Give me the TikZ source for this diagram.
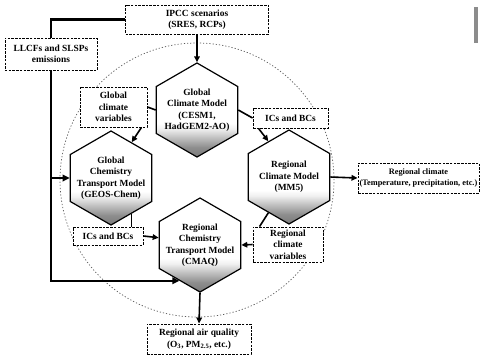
\documentclass[tikz,border=0pt]{standalone}
\usepackage{fontspec}
\setmainfont{Liberation Serif}
\usetikzlibrary{shapes.geometric,arrows.meta}
% grey band at the foot of each model hexagon
\pgfdeclareverticalshading{hexshade}{100bp}{color(0bp)=(black!52); color(25bp)=(black!52); color(30bp)=(black!45); color(36bp)=(black!22); color(40bp)=(black!6); color(43bp)=(white); color(100bp)=(white)}

\begin{document}
\begin{tikzpicture}[x=1bp,y=-1bp,
  txt/.style={font=\bfseries\fontsize{9.4bp}{11.5bp}\selectfont, align=center},
  dbox/.style={txt, draw, fill=white, dash pattern=on 2.5bp off 1.2bp, line width=0.9bp, inner sep=1bp},
  hexnode/.style={regular polygon, regular polygon sides=6, shape border rotate=30,
    minimum size=94bp, inner sep=0pt, draw, line width=1.2bp, shading=hexshade},
  conn/.style={line width=1.6bp},
  arr/.style={conn, -{Triangle[length=6bp,width=5.5bp]}},
  trunk/.style={line width=2.4bp},
  trunkarr/.style={trunk, -{Triangle[length=7bp,width=6.5bp]}},
  ring/.style={draw=black!65, line width=0.7bp, dash pattern=on 1.2bp off 2bp}
]
\useasboundingbox (0,0) rectangle (480,356);
\fill[white] (0,0) rectangle (480,356);

% dotted ring around the four models
\draw[ring] (197,180) circle[radius=137bp];

% models
\node[hexnode, label={[name=gcm-txt,txt]center:Global\\Climate Model\\(CESM1,\\HadGEM2-AO)}] (gcm) at (197,110) {};
\node[hexnode, label={[name=gctm-txt,txt]center:Global\\Chemistry\\Transport Model\\(GEOS-Chem)}] (gctm) at (111,178) {};
\node[hexnode, label={[name=rcm-txt,txt]center:Regional\\Climate Model\\(MM5)}] (rcm) at (289,177) {};
\node[hexnode, label={[name=cmaq-txt,txt]center:Regional\\Chemistry\\Transport Model\\(CMAQ)}] (cmaq) at (200,245) {};

% inputs, exchanged fields and outputs
\node[dbox, minimum width=143bp, minimum height=29bp] (ipcc) at (197,19.5) {IPCC scenarios\\(SRES, RCPs)};
\node[dbox, minimum width=92bp, minimum height=32bp] (llcf) at (51,54) {LLCFs and SLSPs\\emissions};
\node[dbox, minimum width=67bp, minimum height=40bp] (gcvar) at (113.5,107) {Global\\climate\\variables};
\node[dbox, minimum width=75bp, minimum height=20bp] (icsU) at (290.5,118) {ICs and BCs};
\node[dbox, minimum width=70bp, minimum height=18bp] (icsL) at (108,236) {ICs and BCs};
\node[dbox, minimum width=70bp, minimum height=35bp] (rcvar) at (288,244.5) {Regional\\climate\\variables};
\node[dbox, minimum width=121bp, minimum height=30bp, font=\bfseries\fontsize{8.3bp}{10.3bp}\selectfont] (regclim) at (418.5,178) {Regional climate\\(Temperature, precipitation, etc.)};
\node[dbox, minimum width=104bp, minimum height=30bp] (airq) at (199,339) {Regional air quality\\(O\textsubscript{3}, PM\textsubscript{2.5}, etc.)};

% scenario and emission feeds
\draw[arr] (ipcc.south) -- (gcm.north);
\draw[trunk] (ipcc.west) -| (llcf.north);
\coordinate (tap) at (llcf.south |- gctm.west);
\draw[trunk] (llcf.south) -- (tap);
\draw[trunkarr] (tap) -- (gctm.west);
\draw[trunkarr] (tap) |- (cmaq.240);

% model chain
\draw[conn] (gcm.west) -- (gcvar.east);
\draw[arr] ([xshift=-6bp]gcvar.south east) -- (gctm.60);
\draw[conn] (gcm.east) -- (icsU.west);
\draw[arr] ([xshift=6bp]icsU.south west) -- (rcm.120);
\draw[arr] (rcm.east) -- (regclim.west);
\draw[conn] (rcm.240) -- ([xshift=7bp]rcvar.north west);
\draw[arr] (rcvar.west) -- (cmaq.east);
\draw[conn] (gctm.300) -- (gctm.300 |- icsL.north);
\draw[arr] (icsL.east) -- (cmaq.170);
\draw[arr] (cmaq.south) -- (airq.north);

% scanner streak at the top right edge
\fill[black!45] (474,7) rectangle (478,43);
\end{tikzpicture}
\end{document}
